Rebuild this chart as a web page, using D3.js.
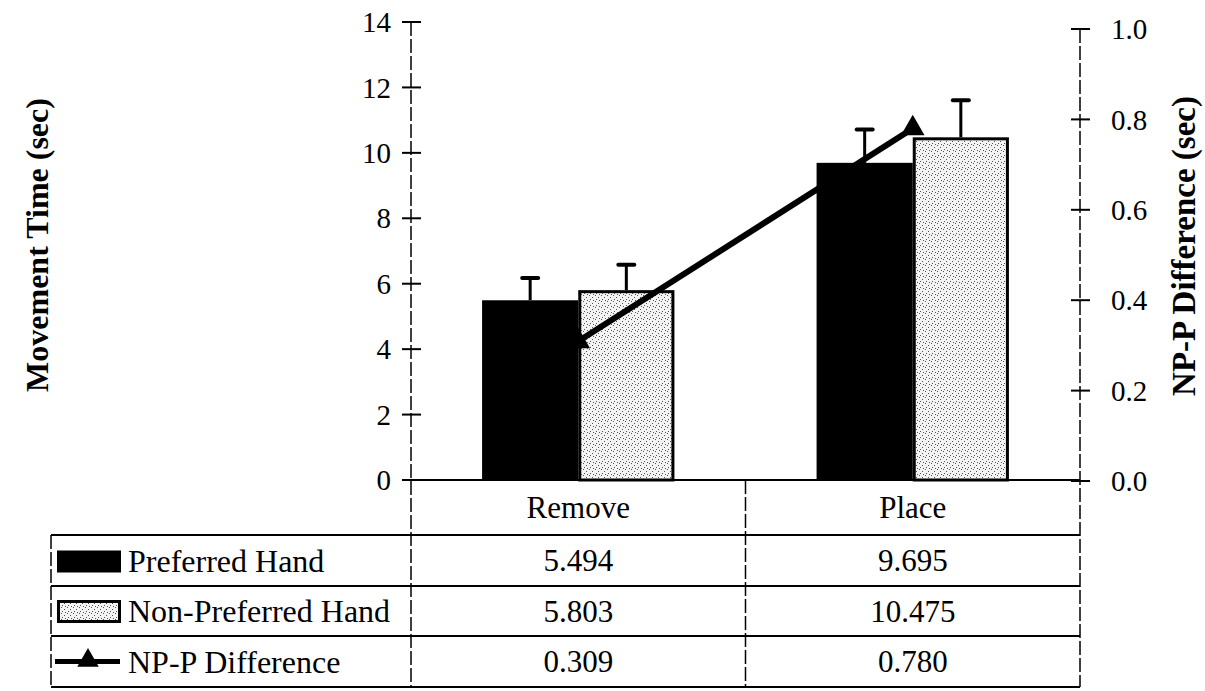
<!DOCTYPE html>
<html>
<head>
<meta charset="utf-8">
<script src="https://cdn.jsdelivr.net/npm/d3@7"></script>
<style>
  html, body { margin: 0; padding: 0; background: #fff; }
  svg { display: block; }
  text { font-family: "Liberation Serif", "Times New Roman", serif; fill: #000; }
</style>
</head>
<body>
<svg id="chart" width="1205" height="691"></svg>
<script>
// ---------------- data ----------------
const categories = ["Remove", "Place"];
const seriesNames = ["Preferred Hand", "Non-Preferred Hand", "NP-P Difference"];
const preferred = [5.494, 9.695];
const nonPreferred = [5.803, 10.475];
const difference = [0.309, 0.780];
const preferredErr = [0.68, 1.02];
const nonPreferredErr = [0.78, 1.13];
const leftTicks = [0, 2, 4, 6, 8, 10, 12, 14];
const rightTicks = [0, 0.2, 0.4, 0.6, 0.8, 1.0];
const leftTitle = "Movement Time (sec)";
const rightTitle = "NP-P Difference (sec)";

// ---------------- layout ----------------
const svg = d3.select("#chart");
const plotLeft = 411, plotRight = 1080;
const baseY = 480;
const tableLeft = 51;
const rowLines = [535, 586, 636, 687];

const x = d3.scaleBand().domain(categories).range([plotLeft, plotRight]).padding(0);
const groupW = x.bandwidth() * 0.575;
const xs = d3.scaleBand().domain([0, 1]).range([0, groupW]).padding(0);
const yL = d3.scaleLinear().domain([0, 14]).range([baseY, 22]);
const yR = d3.scaleLinear().domain([0, 1]).range([baseY + 1, 29]);
const cx = c => x(c) + x.bandwidth() / 2;

// pattern for non-preferred
const defs = svg.append("defs");
const pat = defs.append("pattern").attr("id", "stipple")
  .attr("patternUnits", "userSpaceOnUse").attr("width", 6).attr("height", 6);
pat.append("rect").attr("width", 6).attr("height", 6).attr("fill", "#f3f3f3");
[[1, 1], [4, 3], [2, 5], [5, 0]].forEach(([px, py]) =>
  pat.append("rect").attr("x", px).attr("y", py).attr("width", 1).attr("height", 1).attr("fill", "#555"));

// ---------------- bars ----------------
const bars = svg.append("g");
categories.forEach((c, i) => {
  const gx = cx(c) - groupW / 2;
  bars.append("rect")
    .attr("x", gx + xs(0)).attr("y", yL(preferred[i]))
    .attr("width", xs.bandwidth()).attr("height", yL(0) - yL(preferred[i]))
    .attr("fill", "#000");
  bars.append("rect")
    .attr("x", gx + xs(1) + 1.5).attr("y", yL(nonPreferred[i]) + 1.5)
    .attr("width", xs.bandwidth() - 3).attr("height", yL(0) - yL(nonPreferred[i]) - 1.5)
    .attr("fill", "url(#stipple)").attr("stroke", "#000").attr("stroke-width", 3);
  [[0, preferred[i], preferredErr[i]], [1, nonPreferred[i], nonPreferredErr[i]]].forEach(([s, v, e]) => {
    const ex = gx + xs(s) + xs.bandwidth() / 2;
    bars.append("line").attr("x1", ex).attr("x2", ex)
      .attr("y1", yL(v)).attr("y2", yL(v + e))
      .attr("stroke", "#000").attr("stroke-width", 3);
    bars.append("line").attr("x1", ex - 8).attr("x2", ex + 8)
      .attr("y1", yL(v + e)).attr("y2", yL(v + e))
      .attr("stroke", "#000").attr("stroke-width", 4).attr("stroke-linecap", "round");
  });
});

// ---------------- difference line ----------------
const line = d3.line().x((d, i) => cx(categories[i])).y(d => yR(d));
svg.append("path").datum(difference).attr("d", line)
  .attr("fill", "none").attr("stroke", "#000").attr("stroke-width", 6);
const tri = d3.symbol().type(d3.symbolTriangle).size(240);
svg.selectAll(".tri").data(difference).join("path")
  .attr("transform", (d, i) => `translate(${cx(categories[i])},${yR(d)})`)
  .attr("d", tri).attr("fill", "#000");

// ---------------- axes ----------------
const axL = svg.append("g");
axL.append("line").attr("x1", plotLeft).attr("x2", plotLeft)
  .attr("y1", yL(14)).attr("y2", rowLines[3])
  .attr("stroke", "#000").attr("stroke-width", 1.5).attr("stroke-dasharray", "14,3");
axL.selectAll(".t").data(leftTicks).join("line")
  .attr("x1", plotLeft - 9).attr("x2", plotLeft + 10)
  .attr("y1", d => yL(d)).attr("y2", d => yL(d))
  .attr("stroke", "#000").attr("stroke-width", 2);
axL.selectAll(".l").data(leftTicks).join("text")
  .attr("x", plotLeft - 20).attr("y", d => yL(d)).attr("dy", "0.35em")
  .attr("text-anchor", "end").attr("font-size", 29).text(d => d);

const axR = svg.append("g");
axR.append("line").attr("x1", plotRight).attr("x2", plotRight)
  .attr("y1", yR(1)).attr("y2", rowLines[3])
  .attr("stroke", "#000").attr("stroke-width", 1.5).attr("stroke-dasharray", "14,3");
axR.selectAll(".t").data(rightTicks).join("line")
  .attr("x1", plotRight - 9).attr("x2", plotRight + 10)
  .attr("y1", d => yR(d)).attr("y2", d => yR(d))
  .attr("stroke", "#000").attr("stroke-width", 2);
axR.selectAll(".l").data(rightTicks).join("text")
  .attr("x", plotRight + 31).attr("y", d => yR(d)).attr("dy", "0.35em")
  .attr("text-anchor", "start").attr("font-size", 29).text(d3.format(".1f"));

svg.append("text").attr("transform", "translate(37,245) rotate(-90)")
  .attr("text-anchor", "middle").attr("dy", "0.35em")
  .attr("font-size", 32).attr("font-weight", "bold").text(leftTitle);
svg.append("text").attr("transform", "translate(1183,246) rotate(-90)")
  .attr("text-anchor", "middle").attr("dy", "0.35em")
  .attr("font-size", 33).attr("font-weight", "bold").text(rightTitle);

// ---------------- data table ----------------
const tbl = svg.append("g");
tbl.append("line").attr("x1", plotLeft).attr("x2", plotRight).attr("y1", baseY).attr("y2", baseY)
  .attr("stroke", "#000").attr("stroke-width", 2);
tbl.selectAll(".h").data(rowLines).join("line")
  .attr("x1", tableLeft).attr("x2", plotRight).attr("y1", d => d).attr("y2", d => d)
  .attr("stroke", "#000").attr("stroke-width", 2);
tbl.append("line").attr("x1", tableLeft).attr("x2", tableLeft).attr("y1", rowLines[0]).attr("y2", rowLines[3])
  .attr("stroke", "#000").attr("stroke-width", 1.5).attr("stroke-dasharray", "14,3");
tbl.append("line").attr("x1", x(categories[1])).attr("x2", x(categories[1])).attr("y1", baseY).attr("y2", rowLines[3])
  .attr("stroke", "#000").attr("stroke-width", 1.5).attr("stroke-dasharray", "14,3");

tbl.selectAll(".cat").data(categories).join("text")
  .attr("x", d => cx(d)).attr("y", (baseY + rowLines[0]) / 2).attr("dy", "0.35em")
  .attr("text-anchor", "middle").attr("font-size", 31).text(d => d);

const rowsData = [preferred, nonPreferred, difference];
const fmt = d3.format(".3f");
rowsData.forEach((vals, r) => {
  const cy = (rowLines[r] + rowLines[r + 1]) / 2;
  vals.forEach((v, i) => {
    tbl.append("text").attr("x", cx(categories[i])).attr("y", cy).attr("dy", "0.35em")
      .attr("text-anchor", "middle").attr("font-size", 31).text(fmt(v));
  });
  tbl.append("text").attr("x", 128).attr("y", cy).attr("dy", "0.35em")
    .attr("font-size", 32).text(seriesNames[r]);
});

// legend keys
const k0 = (rowLines[0] + rowLines[1]) / 2;
tbl.append("rect").attr("x", 57).attr("y", k0 - 10).attr("width", 64).attr("height", 22).attr("fill", "#000");
const k1 = (rowLines[1] + rowLines[2]) / 2;
tbl.append("rect").attr("x", 58.5).attr("y", k1 - 9.5).attr("width", 61).attr("height", 20)
  .attr("fill", "url(#stipple)").attr("stroke", "#000").attr("stroke-width", 3);
const k2 = (rowLines[2] + rowLines[3]) / 2;
tbl.append("line").attr("x1", 55).attr("x2", 120).attr("y1", k2).attr("y2", k2)
  .attr("stroke", "#000").attr("stroke-width", 5);
tbl.append("path").attr("transform", `translate(88,${k2 - 1})`)
  .attr("d", d3.symbol().type(d3.symbolTriangle).size(200)).attr("fill", "#000");
</script>
</body>
</html>
